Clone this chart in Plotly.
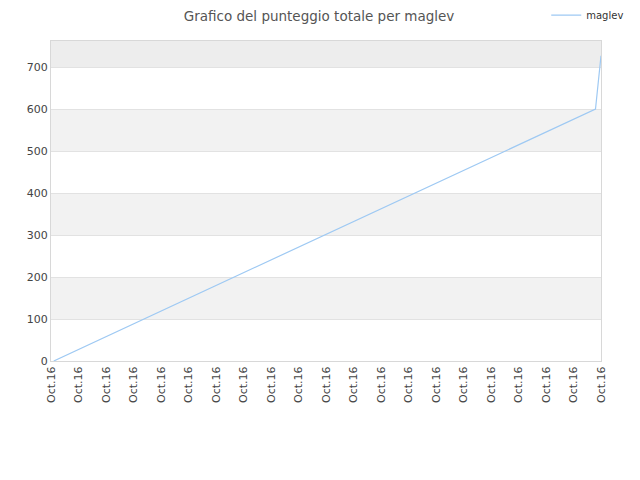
import plotly.graph_objects as go

# score progression (x in tick-index units, all dates fall in Oct.16)
x_pos = [0.1, 5.0, 10.0, 15.0, 19.8, 20.0]
scores = [0, 149, 302, 454, 600, 727]

tick_vals = list(range(21))
tick_text = ["Oct.16"] * 21
y_ticks = [0, 100, 200, 300, 400, 500, 600, 700]

fig = go.Figure()
fig.add_trace(go.Scatter(x=x_pos, y=scores, mode="lines", name="maglev",
                         line=dict(color="#9ec9f3", width=1.2)))

# alternating background bands
bands = [(100, 200), (300, 400), (500, 600), (700, 762)]
for lo, hi in bands:
    fig.add_shape(type="rect", xref="paper", yref="y", x0=0, x1=1, y0=lo, y1=hi,
                  fillcolor="#f2f2f2" if lo < 700 else "#ededed",
                  line_width=0, layer="below")

fig.update_layout(
    width=640, height=480,
    title=dict(text="Grafico del punteggio totale per maglev", x=0.486, y=0.983,
               xref="container", yref="container",
               xanchor="center", yanchor="middle", font=dict(size=13.5, color="#555")),
    font=dict(family="DejaVu Sans", size=11, color="#444"),
    plot_bgcolor="white", paper_bgcolor="white",
    showlegend=True,
    legend=dict(x=0.841, y=0.985, xref="container", yref="container",
                xanchor="left", yanchor="middle", itemwidth=30,
                font=dict(size=10, color="#333"), bgcolor="rgba(0,0,0,0)"),
    margin=dict(l=43, r=47, t=33, b=127, autoexpand=False),
)
fig.update_xaxes(range=[0, 20], tickvals=tick_vals, ticktext=tick_text, tickangle=-90,
                 showgrid=False, showline=True, linecolor="#d8d8d8", mirror=True,
                 zeroline=False, ticks="", automargin=False,
                 tickfont=dict(size=11, color="#444"))
fig.update_yaxes(range=[0, 762], tickvals=y_ticks, showgrid=True, gridcolor="#e2e2e2",
                 showline=True, linecolor="#d8d8d8", mirror=True, zeroline=False,
                 ticks="", automargin=False, tickfont=dict(size=11, color="#444"))

fig.write_html("out.html")
